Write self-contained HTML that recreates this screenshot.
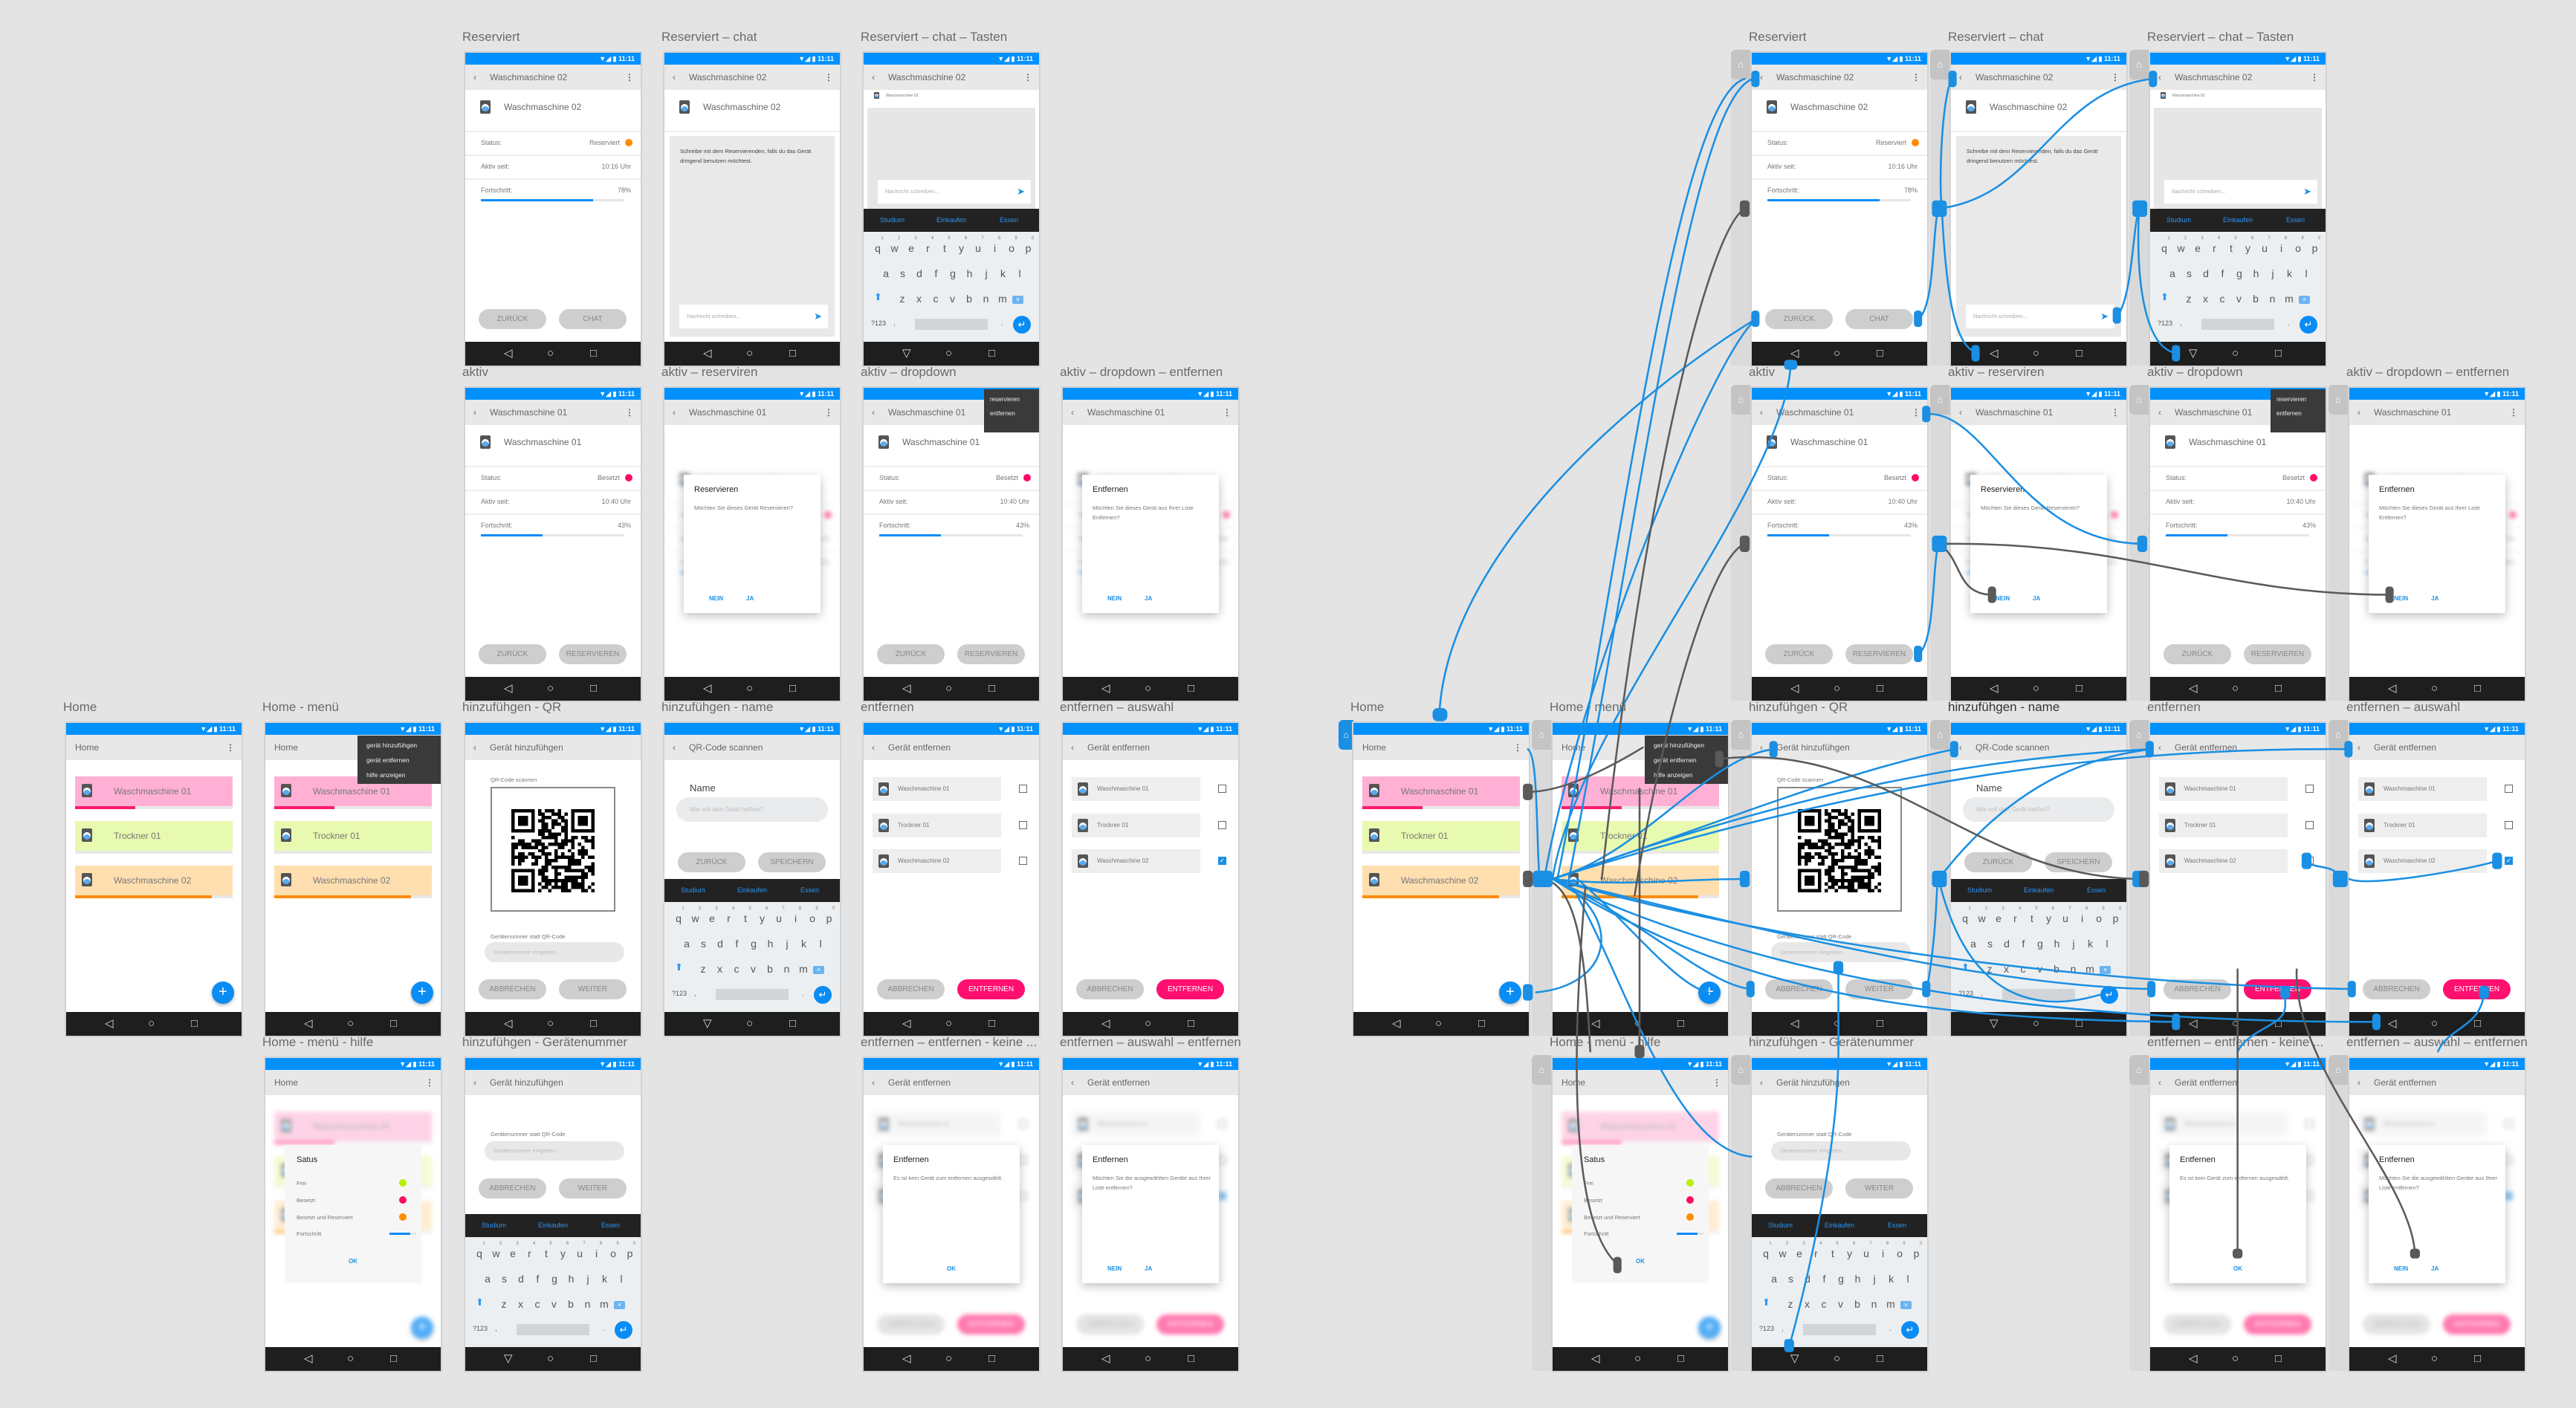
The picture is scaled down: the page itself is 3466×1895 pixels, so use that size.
<!DOCTYPE html>
<html><head><meta charset="utf-8">
<style>
*{box-sizing:border-box;margin:0;padding:0}
body{width:3466px;height:1895px;background:#e4e4e4;position:relative;overflow:hidden;font-family:"Liberation Sans",sans-serif;color:#666}
.a{position:absolute}
.lbl{position:absolute;font-size:17px;color:#6a6a6a;white-space:nowrap}
.ph{position:absolute;width:236px;height:421px;background:#fff;outline:2px solid #d2d2d2;overflow:hidden}
.sb{position:absolute;left:0;top:0;width:100%;height:16px;background:#0091ff;color:#fff;font-size:9px;font-weight:bold;text-align:right;padding-right:8px;line-height:16px}
.ab{position:absolute;left:0;top:16px;width:100%;height:34px;background:#e8e8e8;font-size:12px;color:#666;line-height:34px}
.nv{position:absolute;left:0;top:389px;width:100%;height:32px;background:#1e1e1e;color:#ddd;font-size:15px;line-height:32px}
.btn{position:absolute;height:27px;border-radius:14px;background:#cecece;color:#888;font-size:10px;text-align:center;line-height:27px;width:91px}
.ico{position:absolute;width:14px;height:18px;background:#555;border-radius:2px}
.ico:after{content:"";position:absolute;left:2px;top:5px;width:10px;height:10px;border-radius:50%;background:#5aaaf0;box-shadow:inset 0 3px 0 #fff}
.kbk{position:absolute;font-size:14px;color:#555;width:22px;text-align:center}
.tab{position:absolute;width:26px;background:#d6d6d6}
.dlg{position:absolute;left:26px;top:117px;width:184px;height:186px;background:#fff;box-shadow:0 4px 12px rgba(0,0,0,.25)}
</style></head><body>
<div id="root"></div>
<svg class="a" style="left:0;top:0;z-index:5" width="3466" height="1895" viewBox="0 0 1568 857" preserveAspectRatio="none" fill="none" stroke-linecap="round">
<g stroke="#1a8fe3" stroke-width="1.15">
<path d="M876,437 C880,330 1010,230 1069,194"/>
<path d="M1067,48 C1030,60 1000,300 955,535"/>
<path d="M1090,222 C1085,300 960,440 945,535"/>
<path d="M1168,194 C1178,185 1176,140 1180,127"/>
<path d="M1180,127 C1240,120 1250,55 1310,48"/>
<path d="M1188,48 C1182,60 1180,110 1182,127"/>
<path d="M1182,127 C1185,190 1192,212 1204,215"/>
<path d="M1289,192 C1298,180 1298,140 1302,127"/>
<path d="M1302,127 C1300,170 1305,212 1325,215"/>
<path d="M1168,398 C1178,390 1176,345 1180,331"/>
<path d="M1173,252 C1210,250 1230,330 1304,331"/>
<path d="M1062,48 C1020,60 985,350 948,535"/>
<path d="M1069,194 C1040,220 960,420 940,535"/>
<path d="M945,535 C990,540 1020,535 1062,535"/>
<path d="M945,535 C1000,520 1040,460 1080,456"/>
<path d="M945,535 C1050,500 1120,470 1190,456"/>
<path d="M945,535 C1100,480 1200,462 1309,456"/>
<path d="M945,535 C1150,470 1300,455 1430,456"/>
<path d="M945,535 C1050,560 1200,600 1310,602"/>
<path d="M945,535 C1100,580 1300,600 1432,602"/>
<path d="M945,535 C1050,600 1150,620 1325,622"/>
<path d="M945,535 C1100,610 1300,622 1447,622"/>
<path d="M945,535 C1000,560 1040,600 1066,602"/>
<path d="M935,604 C980,600 990,560 948,535"/>
<path d="M1040,604 C1020,600 990,560 960,535"/>
<path d="M1066,704 C1020,700 990,600 960,545"/>
<path d="M1119,590 L1119,640 C1119,700 1100,780 1089,820"/>
<path d="M1173,602 C1180,560 1178,540 1180,535"/>
<path d="M1180,535 C1230,470 1280,460 1309,456"/>
<path d="M1404,524 C1410,530 1420,525 1425,535"/>
<path d="M1520,524 C1500,530 1440,540 1430,535"/>
<path d="M1391,602 L1391,612 C1391,625 1370,625 1362,640"/>
<path d="M1512,602 C1512,625 1490,625 1484,640"/>
<path d="M930,456 C936,460 935,500 937,535"/>
<path d="M1283,604 C1250,615 1200,618 1180,535"/>
</g>
<g stroke="#5a5a5a" stroke-width="1.15">
<path d="M1062,127 C1040,140 1000,300 975,535"/>
<path d="M1062,331 C1040,340 1010,450 995,545"/>
<path d="M1180,331 C1195,340 1190,362 1213,362"/>
<path d="M1185,331 C1300,330 1350,362 1455,362"/>
<path d="M930,482 C950,482 975,470 1000,455"/>
<path d="M1046,462 C1150,450 1200,535 1305,535"/>
<path d="M965,540 C960,600 950,740 985,770"/>
<path d="M998,480 L998,640"/>
<path d="M940,535 C960,540 965,580 968,640"/>
<path d="M1362,590 L1362,765"/>
<path d="M1398,590 C1395,650 1470,720 1470,765"/>
</g>
<g fill="#1a8fe3">
<rect x="1066" y="43" width="5" height="10" rx="2"/><rect x="1066" y="189" width="5" height="10" rx="2"/><rect x="1165" y="189" width="5" height="10" rx="2"/>
<rect x="1086" y="219" width="8" height="6" rx="2"/><rect x="1186" y="43" width="5" height="10" rx="2"/><rect x="1176" y="122" width="9" height="10" rx="2"/>
<rect x="1298" y="122" width="9" height="10" rx="2"/><rect x="1308" y="43" width="5" height="10" rx="2"/><rect x="1286" y="187" width="5" height="10" rx="2"/>
<rect x="1200" y="210" width="5" height="10" rx="2"/><rect x="1322" y="210" width="5" height="10" rx="2"/><rect x="1165" y="393" width="5" height="10" rx="2"/>
<rect x="1170" y="247" width="5" height="10" rx="2"/><rect x="1176" y="326" width="9" height="10" rx="2"/><rect x="1301" y="326" width="6" height="10" rx="2"/>
<rect x="872" y="431" width="9" height="8" rx="3"/><rect x="933" y="530" width="12" height="10" rx="2"/><rect x="1059" y="530" width="6" height="10" rx="2"/>
<rect x="1176" y="530" width="9" height="10" rx="2"/><rect x="1298" y="530" width="9" height="10" rx="2"/><rect x="1420" y="530" width="9" height="10" rx="2"/>
<rect x="1063" y="597" width="5" height="10" rx="2"/><rect x="1170" y="597" width="5" height="10" rx="2"/><rect x="1307" y="597" width="5" height="10" rx="2"/>
<rect x="1429" y="597" width="5" height="10" rx="2"/><rect x="927" y="599" width="6" height="10" rx="2"/><rect x="1077" y="451" width="5" height="10" rx="2"/>
<rect x="1187" y="451" width="5" height="10" rx="2"/><rect x="1306" y="451" width="5" height="10" rx="2"/><rect x="1427" y="451" width="5" height="10" rx="2"/>
<rect x="1116" y="585" width="6" height="8" rx="2"/><rect x="1086" y="815" width="6" height="8" rx="2"/><rect x="1388" y="600" width="6" height="8" rx="2"/><rect x="1509" y="600" width="6" height="8" rx="2"/>
<rect x="1401" y="519" width="6" height="10" rx="2"/><rect x="1517" y="519" width="6" height="10" rx="2"/><rect x="1322" y="617" width="5" height="10" rx="2"/><rect x="1444" y="617" width="5" height="10" rx="2"/>
</g>
<g fill="#5a5a5a">
<rect x="1059" y="122" width="6" height="10" rx="2"/><rect x="1059" y="326" width="6" height="10" rx="2"/><rect x="1210" y="357" width="5" height="10" rx="2"/>
<rect x="1452" y="357" width="5" height="10" rx="2"/><rect x="927" y="477" width="6" height="10" rx="2"/><rect x="927" y="530" width="6" height="10" rx="2"/>
<rect x="982" y="765" width="5" height="10" rx="2"/><rect x="1302" y="530" width="6" height="10" rx="2"/><rect x="1359" y="760" width="6" height="6" rx="2"/><rect x="1467" y="760" width="6" height="6" rx="2"/>
<rect x="1044" y="457" width="5" height="10" rx="2"/><rect x="995" y="636" width="6" height="8" rx="2"/>
</g>
</svg>
<script>
const R=document.getElementById('root');
function d(p,css,html,cls){const e=document.createElement('div');e.className=cls||'a';if(css)e.style.cssText=css;if(html!=null)e.innerHTML=html;p.appendChild(e);return e;}
function btn(p,x,y,t,bg,col,w){return d(p,`left:${x}px;top:${y}px;${w?'width:'+w+'px;':''}${bg?'background:'+bg+';':''}${col?'color:'+col+';':''}`,t,'btn');}
function ico(p,x,y,s){const e=d(p,`left:${x}px;top:${y}px;${s?'transform:scale('+s+');transform-origin:0 0':''}`,'','ico');return e;}
function appbar(p,t,back,dots){d(p,'',`${back?'<span style="position:absolute;left:11px">‹</span>':''}<span style="position:absolute;left:${back?33:12}px">${t}</span>${dots?'<span style="position:absolute;right:9px;font-weight:bold">⋮</span>':''}`,'ab');}
function nav(p,down){d(p,'',`<span style="position:absolute;left:52px">${down?'▽':'◁'}</span><span style="position:absolute;left:110px">○</span><span style="position:absolute;left:168px">□</span>`,'nv');}
function kb(p){
 d(p,'left:0;top:210px;width:236px;height:31px;background:#222;font-size:9px;color:#2b95f5;line-height:31px',`<span style="position:absolute;left:22px">Studium</span><span style="position:absolute;left:98px">Einkaufen</span><span style="position:absolute;left:183px">Essen</span>`);
 const k=d(p,'left:0;top:241px;width:236px;height:148px;background:#eceff1');
 'qwertzuiop'.replace('z','y').split('').forEach((c,i)=>{d(k,`left:${8+i*22.5}px;top:14px`,c,'kbk');d(k,`left:${8+i*22.5+6}px;top:6px;font-size:6px;width:22px;text-align:center;color:#777`,''+((i+1)%10));});
 'asdfghjkl'.split('').forEach((c,i)=>d(k,`left:${19+i*22.5}px;top:48px`,c,'kbk'));
 d(k,'left:14px;top:80px;color:#2b95f5;font-size:13px','🡅'.length?'⬆':'');
 'zxcvbnm'.split('').forEach((c,i)=>d(k,`left:${41+i*22.5}px;top:82px`,c,'kbk'));
 d(k,'left:200px;top:86px;width:15px;height:11px;background:#6ab4f2;border-radius:2px;color:#fff;font-size:9px;text-align:center;line-height:11px','×');
 d(k,'left:10px;top:118px;font-size:9px;color:#555','?123');d(k,'left:40px;top:118px;font-size:10px',',');
 d(k,'left:69px;top:117px;width:98px;height:15px;background:#d1d5d8');d(k,'left:185px;top:118px;font-size:10px','.');
 d(k,'left:201px;top:113px;width:24px;height:24px;border-radius:50%;background:#0a8cf5;color:#fff;text-align:center;line-height:24px;font-size:13px','↵');
}
function detail(p,o){
 const b=d(p,'left:0;top:50px;width:236px;height:339px');
 ico(b,20,14);d(b,'left:52px;top:16px;font-size:12px;color:#666',o.n);
 d(b,'left:0;top:55px;width:236px;height:2px;background:#eee');
 d(b,'left:21px;top:66px;font-size:9px;color:#777','Status:');d(b,`right:28px;top:66px;font-size:9px;color:#777`,o.s);
 d(b,`right:11px;top:66px;width:10px;height:10px;border-radius:50%;background:${o.c}`);
 d(b,'left:0;top:87px;width:236px;height:2px;background:#eee');
 d(b,'left:21px;top:98px;font-size:9px;color:#777','Aktiv seit:');d(b,'right:13px;top:98px;font-size:9px;color:#777',o.t);
 d(b,'left:0;top:119px;width:236px;height:2px;background:#eee');
 d(b,'left:21px;top:130px;font-size:9px;color:#777','Fortschritt:');d(b,'right:13px;top:130px;font-size:9px;color:#777',o.p+'%');
 d(b,'left:21px;top:147px;width:193px;height:3px;background:#e6e6e6');d(b,`left:21px;top:147px;width:${193*o.p/100}px;height:3px;background:#0a8cf5`);
 btn(b,18,295,'ZURÜCK');btn(b,126,295,o.b);
 return b;
}
function homeList(b){
 const it=[['Waschmaschine 01','#ffb0d4','#ff1a6c',.38],['Trockner 01','#e8f9b0','',0],['Waschmaschine 02','#ffdfb0','#ff8c00',.87]];
 it.forEach((t,i)=>{const y=22+i*60;d(b,`left:12px;top:${y}px;width:212px;height:44px;background:#e8e8e8`);d(b,`left:12px;top:${y}px;width:212px;height:40px;background:${t[1]}`);
  if(t[2])d(b,`left:12px;top:${y+40}px;width:${212*t[3]}px;height:4px;background:${t[2]}`);
  ico(b,21,y+10);d(b,`left:64px;top:${y+13}px;font-size:12px;color:#777`,t[0]);});
}
function entList(b,chk){
 ['Waschmaschine 01','Trockner 01','Waschmaschine 02'].forEach((t,i)=>{const y=23+i*48.5;d(b,`left:12px;top:${y}px;width:173px;height:32px;background:#eee`);ico(b,20,y+7);d(b,`left:46px;top:${y+11}px;font-size:8px;color:#777`,t);
  const c=chk&&i==2;d(b,`left:209px;top:${y+10}px;width:11px;height:11px;border:1.5px solid ${c?'#1a8fe3':'#666'};background:${c?'#1a8fe3':'#fff'};color:#fff;font-size:9px;line-height:9px;text-align:center`,c?'✓':'');});
}
function blur(p){return d(p,'left:0;top:50px;width:236px;height:339px;filter:blur(3px);opacity:.55');}
function dialog(p,t,txt,btns){const g=d(p,'','','dlg');d(g,'left:14px;top:14px;font-size:11px;color:#222',t);d(g,'left:14px;top:38px;width:160px;font-size:7.5px;line-height:13px;color:#777',txt);
 btns.forEach(b=>d(g,`left:${b[1]}px;top:162px;font-size:8px;color:#1a8fe3;font-weight:bold`,b[0]));return g;}
function qr(b){
 const bx=d(b,'left:34px;top:36px;width:168px;height:168px;border:2px solid #888');
 let s='<svg width="112" height="112" viewBox="0 0 25 25" style="position:absolute;left:26px;top:28px" shape-rendering="crispEdges">';
 let seed=7;const rnd=()=>{seed=(seed*9301+49297)%233280;return seed/233280;};
 for(let y=0;y<25;y++)for(let x=0;x<25;x++){const f=(x<8&&y<8)||(x>16&&y<8)||(x<8&&y>16);if(!f&&rnd()<.5)s+=`<rect x="${x}" y="${y}" width="1" height="1"/>`;}
 [[0,0],[18,0],[0,18]].forEach(([x,y])=>{s+=`<rect x="${x}" y="${y}" width="7" height="7"/><rect x="${x+1}" y="${y+1}" width="5" height="5" fill="#fff"/><rect x="${x+2}" y="${y+2}" width="3" height="3"/>`;});
 bx.innerHTML=s+'</svg>';
}
const TYPES={
 det2:p=>{appbar(p,'Waschmaschine 02',1,1);detail(p,{n:'Waschmaschine 02',s:'Reserviert',c:'#ff8c00',t:'10:16 Uhr',p:78,b:'CHAT'});},
 det1:p=>{appbar(p,'Waschmaschine 01',1,1);detail(p,{n:'Waschmaschine 01',s:'Besetzt',c:'#ff0a64',t:'10:40 Uhr',p:43,b:'RESERVIEREN'});},
 chat:p=>{appbar(p,'Waschmaschine 02',1,1);const b=d(p,'left:0;top:50px;width:236px;height:339px');ico(b,20,14);d(b,'left:52px;top:16px;font-size:12px;color:#666','Waschmaschine 02');
  d(b,'left:0;top:55px;width:236px;height:2px;background:#eee');const g=d(b,'left:7px;top:62px;width:222px;height:270px;background:#e9e9e9');
  d(g,'left:14px;top:14px;width:190px;font-size:7.5px;line-height:13px;color:#444','Schreibe mit dem Reservierenden, falls du das Gerät dringend benutzen möchtest.');
  d(g,'left:13px;top:227px;width:200px;height:32px;background:#fff;font-size:7.5px;color:#aaa;line-height:32px;padding-left:10px','Nachricht schreiben...<span style="position:absolute;right:8px;color:#1a8fe3;font-size:13px">➤</span>');},
 chatkb:p=>{appbar(p,'Waschmaschine 02',1,1);const b=d(p,'left:0;top:50px;width:236px;height:339px');ico(b,14,3,.5);d(b,'left:30px;top:5px;font-size:5px;color:#777','Waschmaschine 02');
  d(b,'left:5px;top:24px;width:226px;height:136px;background:#e6e6e6');d(b,'left:19px;top:121px;width:206px;height:32px;background:#fff;font-size:7.5px;color:#aaa;line-height:32px;padding-left:10px','Nachricht schreiben...<span style="position:absolute;right:8px;color:#1a8fe3;font-size:13px">➤</span>');kb(p);},
 res:p=>{appbar(p,'Waschmaschine 01',1,1);const b=blur(p);detail({appendChild:e=>b.appendChild(e)},{n:'Waschmaschine 01',s:'Besetzt',c:'#ff0a64',t:'10:40 Uhr',p:43,b:'RESERVIEREN'});
  dialog(p,'Reservieren','Möchten Sie dieses Gerät Reservieren?',[['NEIN',34],['JA',84]]);},
 drop:p=>{appbar(p,'Waschmaschine 01',1,1);detail(p,{n:'Waschmaschine 01',s:'Besetzt',c:'#ff0a64',t:'10:40 Uhr',p:43,b:'RESERVIEREN'});
  d(p,'left:162px;top:2px;width:74px;height:58px;background:#3a3a3a;color:#eee;font-size:8px;line-height:19px;padding:4px 0 0 8px','reservieren<br>entfernen');},
 dropent:p=>{appbar(p,'Waschmaschine 01',1,1);const b=blur(p);detail({appendChild:e=>b.appendChild(e)},{n:'Waschmaschine 01',s:'Besetzt',c:'#ff0a64',t:'10:40 Uhr',p:43,b:'RESERVIEREN'});
  dialog(p,'Entfernen','Möchten Sie dieses Gerät aus Ihrer Liste Entfernen?',[['NEIN',34],['JA',84]]);},
 home:p=>{appbar(p,'Home',0,1);const b=d(p,'left:0;top:50px;width:236px;height:339px');homeList(b);fab(p);},
 homemenu:p=>{appbar(p,'Home',0,1);const b=d(p,'left:0;top:50px;width:236px;height:339px');homeList(b);fab(p);
  d(p,'left:124px;top:17px;width:112px;height:65px;background:#3a3a3a;color:#eee;font-size:8.5px;line-height:20px;padding:3px 0 0 12px','gerät hinzufühgen<br>gerät entfernen<br>hilfe anzeigen');},
 homehelp:p=>{appbar(p,'Home',0,1);const b=blur(p);homeList(b);const f=fab(p);f.style.filter='blur(3px)';f.style.opacity='.7';
  const g=d(p,'left:26px;top:117px;width:184px;height:186px;background:#f6f6f6');d(g,'left:16px;top:14px;font-size:11px;color:#222','Satus');
  [['Frei','#b8f000'],['Besetzt','#ff0a64'],['Besetzt und Reserviert','#ff8c00']].forEach((t,i)=>{d(g,`left:16px;top:${47+i*23}px;font-size:7.5px;color:#777`,t[0]);d(g,`left:154px;top:${46+i*23}px;width:10px;height:10px;border-radius:50%;background:${t[1]}`);});
  d(g,'left:16px;top:115px;font-size:7.5px;color:#777','Fortschritt');d(g,'left:141px;top:118px;width:36px;height:3px;background:#e4e4e4');d(g,'left:141px;top:118px;width:28px;height:3px;background:#0a8cf5');
  d(g,'left:86px;top:152px;font-size:8px;color:#1a8fe3;font-weight:bold','OK');},
 qr:p=>{appbar(p,'Gerät hinzufühgen',1,0);const b=d(p,'left:0;top:50px;width:236px;height:339px');d(b,'left:34px;top:22px;font-size:7.5px;color:#777','QR-Code scannen');qr(b);
  d(b,'left:34px;top:233px;font-size:7.5px;color:#777','Gerätenummer statt QR-Code');d(b,'left:26px;top:245px;width:188px;height:27px;border-radius:14px;background:#e8e8e8;font-size:7.5px;color:#bbb;line-height:27px;padding-left:12px','Gerätenummer eingeben...');
  btn(b,18,295,'ABBRECHEN');btn(b,126,295,'WEITER');},
 name:p=>{appbar(p,'QR-Code scannen',1,0);const b=d(p,'left:0;top:50px;width:236px;height:339px');d(b,'left:34px;top:30px;font-size:13px;color:#444','Name');
  d(b,'left:16px;top:50px;width:204px;height:33px;border-radius:17px;background:#e9ebed;font-size:8px;color:#bbb;line-height:33px;padding-left:18px','Wie soll dein Gerät heißen?');
  btn(b,18,124,'ZURÜCK');btn(b,126,124,'SPEICHERN');kb(p);},
 gnr:p=>{appbar(p,'Gerät hinzufühgen',1,0);const b=d(p,'left:0;top:50px;width:236px;height:339px');d(b,'left:34px;top:48px;font-size:7.5px;color:#777','Gerätenummer statt QR-Code');
  d(b,'left:26px;top:62px;width:188px;height:26px;border-radius:14px;background:#e8e8e8;font-size:7.5px;color:#bbb;line-height:26px;padding-left:12px','Gerätenummer eingeben...');
  btn(b,18,112,'ABBRECHEN');btn(b,126,112,'WEITER');kb(p);},
 ent:p=>{appbar(p,'Gerät entfernen',1,0);const b=d(p,'left:0;top:50px;width:236px;height:339px');entList(b,0);btn(b,18,295,'ABBRECHEN');btn(b,126,295,'ENTFERNEN','#ff0f6f','#fff');},
 entsel:p=>{appbar(p,'Gerät entfernen',1,0);const b=d(p,'left:0;top:50px;width:236px;height:339px');entList(b,1);btn(b,18,295,'ABBRECHEN');btn(b,126,295,'ENTFERNEN','#ff0f6f','#fff');},
 entk:p=>{appbar(p,'Gerät entfernen',1,0);const b=blur(p);entList(b,0);btn(b,18,295,'ABBRECHEN');btn(b,126,295,'ENTFERNEN','#ff0f6f','#fff');
  dialog(p,'Entfernen','Es ist kein Gerät zum entfernen ausgewählt.',[['OK',86]]);},
 entsd:p=>{appbar(p,'Gerät entfernen',1,0);const b=blur(p);entList(b,1);btn(b,18,295,'ABBRECHEN');btn(b,126,295,'ENTFERNEN','#ff0f6f','#fff');
  dialog(p,'Entfernen','Möchten Sie die ausgewählten Geräte aus Ihrer Liste entfernen?',[['NEIN',34],['JA',84]]);},
};
function fab(p){return d(p,'left:196px;top:348px;width:30px;height:30px;border-radius:50%;background:#0a8cf5;color:#fff;font-size:20px;text-align:center;line-height:29px;box-shadow:0 2px 4px rgba(0,0,0,.3)','+');}
const L=[89,357,626,894,1162,1430],RR=[1821,2089,2357,2625,2893,3161],ROW=[71,522,973,1424];
const G=[[0,2,'Reserviert','det2'],[0,3,'Reserviert – chat','chat'],[0,4,'Reserviert – chat – Tasten','chatkb'],
[1,2,'aktiv','det1'],[1,3,'aktiv – reserviren','res'],[1,4,'aktiv – dropdown','drop'],[1,5,'aktiv – dropdown – entfernen','dropent'],
[2,0,'Home','home'],[2,1,'Home - menü','homemenu'],[2,2,'hinzufühgen - QR','qr'],[2,3,'hinzufühgen - name','name'],[2,4,'entfernen','ent'],[2,5,'entfernen – auswahl','entsel'],
[3,1,'Home - menü - hilfe','homehelp'],[3,2,'hinzufühgen - Gerätenummer','gnr'],[3,4,'entfernen – entfernen - keine ...','entk'],[3,5,'entfernen – auswahl – entfernen','entsd']];
function phone(x,y,label,type,right){
 d(R,`left:${x-4}px;top:${y-31}px;${right&&type=='name'?'color:#333;':''}`,label,'lbl');
 if(right){if(type=='home'){d(R,`left:${x-20}px;top:${y-4}px;width:20px;height:40px;background:#1a8fe3;border-radius:6px 0 0 6px;color:#fff;font-size:12px;text-align:center;line-height:40px`,'⌂');}
  else{d(R,`left:${x-28}px;top:${y}px;height:421px;background:#dadada`,'','tab');d(R,`left:${x-28}px;top:${y-4}px;width:26px;height:40px;background:#c4c4c4;border-radius:6px 0 0 6px;color:#fff;font-size:13px;text-align:center;line-height:40px`,'⌂');}}
 const p=d(R,`left:${x}px;top:${y}px`,'','ph');
 d(p,'','▼◢ ▮ 11:11','sb');
 TYPES[type](p);nav(p,/name|chatkb|gnr/.test(type));
}
G.forEach(g=>{phone(L[g[1]],ROW[g[0]],g[2],g[3],0);phone(RR[g[1]],ROW[g[0]],g[2],g[3],1);});
</script>
</body></html>
